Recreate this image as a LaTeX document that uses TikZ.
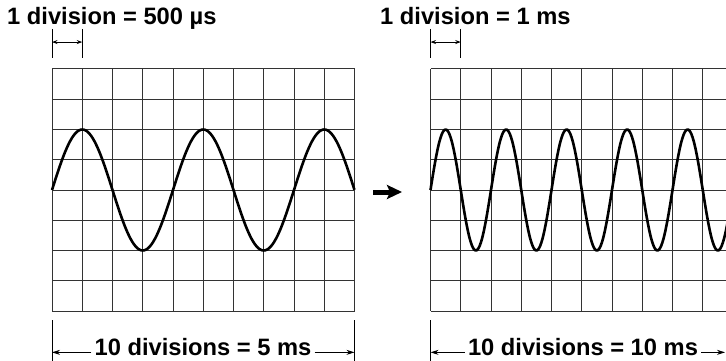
\documentclass[tikz,border=0pt]{standalone}
\usepackage{fontspec}
\setmainfont{Liberation Sans}
\usetikzlibrary{arrows.meta,calc}

\begin{document}
\begin{tikzpicture}[x=1pt,y=-1pt,
  gridline/.style={line width=1pt,black!80},
  wave/.style={line width=2.6pt,line join=round,smooth},
  dimline/.style={line width=0.9pt},
  dimarrow/.style={line width=0.9pt,-{Stealth[length=8pt,width=5pt]}},
  dimboth/.style={line width=0.9pt,{Stealth[length=5.5pt,width=4pt]}-{Stealth[length=5.5pt,width=4pt]}},
  bigarrow/.style={line width=5pt,-{Stealth[length=15pt,width=14pt,inset=3pt]}},
  caption/.style={font=\bfseries\fontsize{23.7}{27}\selectfont,inner sep=3pt}]
  \useasboundingbox (0,0) rectangle (726,361);
  % left screen: 500 us per division
  \foreach \i in {0,...,10}
    \draw[gridline] ({52+30.25*\i},69) -- ({52+30.25*\i},311);
  \foreach \j in {0,...,8}
    \draw[gridline] (52,{69+30.25*\j}) -- (354.5,{69+30.25*\j});
  \draw[wave] plot[domain=0:10,samples=201] ({52+30.25*\x},{190-60.5*sin(90*\x)});
  % right screen: 1 ms per division
  \begin{scope}
    \clip (0,0) rectangle (726,361);
    \foreach \i in {0,...,10}
      \draw[gridline] ({430.5+30.25*\i},69) -- ({430.5+30.25*\i},311);
    \foreach \j in {0,...,8}
      \draw[gridline] (430.5,{69+30.25*\j}) -- (733,{69+30.25*\j});
    \draw[wave] plot[domain=0:10,samples=301] ({430.5+30.25*\x},{190-60.5*sin(180*\x)});
  \end{scope}
  % captions
  \node[caption,anchor=base west] (divA) at (4,25) {1 division = 500 µs};
  \node[caption,anchor=base west] (divB) at (377,25) {1 division = 1 ms};
  \node[caption,anchor=base] (spanA) at (203,355) {10 divisions = 5 ms};
  \node[caption,anchor=base] (spanB) at (583,355) {10 divisions = 10 ms};
  % one division marks
  \coordinate (ta1) at (52,29);   \coordinate (ta2) at (52,58);
  \coordinate (tb1) at (82.25,29); \coordinate (tb2) at (82.25,58);
  \coordinate (tc1) at (430.5,29); \coordinate (tc2) at (430.5,58);
  \coordinate (td1) at (460.75,29); \coordinate (td2) at (460.75,58);
  \draw[dimline] (ta1) -- (ta2) (tb1) -- (tb2) (tc1) -- (tc2) (td1) -- (td2);
  \draw[dimboth] ($(ta1)!0.45!(ta2)$) -- ($(tb1)!0.45!(tb2)$);
  \draw[dimboth] ($(tc1)!0.45!(tc2)$) -- ($(td1)!0.45!(td2)$);
  % ten division spans
  \coordinate (sa1) at (52,320);  \coordinate (sa2) at (52,361);
  \coordinate (sb1) at (354.5,320); \coordinate (sb2) at (354.5,361);
  \coordinate (sc1) at (430.5,320); \coordinate (sc2) at (430.5,361);
  \coordinate (sd) at (725,320);
  \draw[dimline] (sa1) -- (sa2) (sb1) -- (sb2) (sc1) -- (sc2);
  \draw[dimarrow] (spanA.mid west) -- (spanA.mid west -| sa1);
  \draw[dimarrow] (spanA.mid east) -- (spanA.mid east -| sb1);
  \draw[dimarrow] (spanB.mid west) -- (spanB.mid west -| sc1);
  \draw[dimarrow] (spanB.mid east) -- (spanB.mid east -| sd);
  % change of time base
  \coordinate (mA) at (373,192);
  \coordinate (mB) at (402,192);
  \draw[bigarrow] (mA) -- (mB);
\end{tikzpicture}
\end{document}
